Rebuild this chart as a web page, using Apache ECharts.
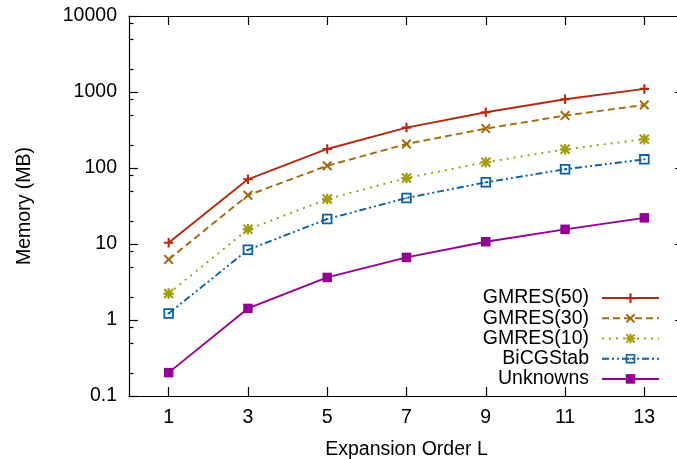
<!DOCTYPE html>
<html>
<head>
<meta charset="utf-8">
<script src="https://cdn.jsdelivr.net/npm/echarts@6/dist/echarts.min.js"></script>
<style>
html,body{margin:0;padding:0;background:#fff;}
#chart{width:677px;height:459px;}
</style>
</head>
<body>
<div id="chart"></div>
<script>
const orders = [1, 3, 5, 7, 9, 11, 13];
const gmres50 = [10.4, 71, 178, 340, 542, 804, 1099];
const gmres30 = [6.27, 43.7, 107, 207, 330, 489, 676];
const gmres10 = [2.23, 15.6, 39, 73.8, 119, 176, 239];
const bicgstab = [1.22, 8.39, 21.3, 40.3, 64.8, 96.1, 130];
const unknowns = [0.203, 1.42, 3.63, 6.66, 10.7, 15.6, 22.1];
const xTicks = [1, 3, 5, 7, 9, 11, 13];
const yTicks = [0.1, 1, 10, 100, 1000, 10000];
const yMinorTicks = [0.2, 0.5, 0.8, 2, 5, 8, 20, 50, 80, 200, 500, 800, 2000, 5000, 8000];

const FONT = 'Liberation Sans, Arial, sans-serif';
const FS = 19.5;

const PLUS = 'path://M-1.1,-5H1.1V5H-1.1Z M-5,-1.1H5V1.1H-5Z';
const CROSS = 'path://M-3.7,-5.2L5.2,3.7L3.7,5.2L-5.2,-3.7Z M3.7,-5.2L5.2,-3.7L-3.7,5.2L-5.2,3.7Z';
const STAR = 'path://M-1.1,-5.2H1.1V5.2H-1.1Z M-5.2,-1.1H5.2V1.1H-5.2Z M-3.7,-5.2L5.2,3.7L3.7,5.2L-5.2,-3.7Z M3.7,-5.2L5.2,-3.7L-3.7,5.2L-5.2,3.7Z';
const BOXDOT = 'path://M-5,-5H5V5H-5Z M-3.3,-3.3V3.3H3.3V-3.3Z M-1,-0.8H1V0.8H-1Z';

function pts(vals){ return orders.map((o,i)=>[o, vals[i]]); }

function mk(name, vals, color, type, symbol, size){
  return {
    name: name, type: 'line', data: pts(vals),
    xAxisIndex: 0, yAxisIndex: 0,
    symbol: symbol, symbolSize: size, showSymbol: true,
    lineStyle: {color: color, width: 1.9, type: type},
    itemStyle: {color: color, borderWidth: 0},
    emphasis: {disabled: true}
  };
}

const chart = echarts.init(document.getElementById('chart'), null, {renderer: 'canvas'});
const axisLine = {show: true, lineStyle: {color: '#000', width: 1.2}};
chart.setOption({
  animation: false,
  backgroundColor: '#fff',
  textStyle: {fontFamily: FONT},
  grid: {left: 129, top: 16, width: 555, height: 380, containLabel: false, outerBoundsMode: 'none'},
  legend: {
    orient: 'vertical', right: 17, top: 288, padding: 0,
    align: 'right', itemWidth: 57, itemHeight: 12, itemGap: 0,
    textStyle: {fontFamily: FONT, fontSize: FS, lineHeight: 20.2, color: '#000', padding: [0, 8, 0, 0]},
    data: ['GMRES(50)', 'GMRES(30)', 'GMRES(10)', 'BiCGStab', 'Unknowns']
  },
  xAxis: [
    {
      type: 'value', position: 'bottom', min: 0, max: 14,
      name: 'Expansion Order L', nameLocation: 'middle', nameGap: 44,
      nameTextStyle: {fontFamily: FONT, fontSize: FS, color: '#000'},
      axisLine: axisLine,
      axisTick: {show: true, inside: true, length: 9, lineStyle: {color: '#000', width: 1.2}, customValues: xTicks},
      axisLabel: {show: true, margin: 12, fontFamily: FONT, fontSize: FS, color: '#000', customValues: xTicks},
      splitLine: {show: false}
    },
    {
      type: 'value', position: 'top', min: 0, max: 14,
      axisLine: axisLine,
      axisTick: {show: true, inside: true, length: 9, lineStyle: {color: '#000', width: 1.2}, customValues: xTicks},
      axisLabel: {show: false},
      splitLine: {show: false}
    }
  ],
  yAxis: [
    {
      type: 'log', logBase: 10, position: 'left', min: 0.1, max: 10000,
      name: 'Memory (MB)', nameLocation: 'middle', nameGap: 94, nameRotate: 90,
      nameTextStyle: {fontFamily: FONT, fontSize: FS, color: '#000'},
      axisLine: axisLine,
      axisTick: {show: true, inside: true, length: 9, lineStyle: {color: '#000', width: 1.2}, customValues: yTicks},
      axisLabel: {show: true, margin: 12, fontFamily: FONT, fontSize: FS, color: '#000', customValues: yTicks,
        formatter: function(v){ return String(v); }},
      splitLine: {show: false}
    },
    {
      type: 'log', logBase: 10, position: 'left', min: 0.1, max: 10000,
      axisLine: {show: false},
      axisTick: {show: true, inside: true, length: 4.5, lineStyle: {color: '#000', width: 1.2}, customValues: yMinorTicks},
      axisLabel: {show: false},
      splitLine: {show: false}
    },
    {
      type: 'log', logBase: 10, position: 'right', min: 0.1, max: 10000,
      axisLine: axisLine,
      axisTick: {show: true, inside: true, length: 9, lineStyle: {color: '#000', width: 1.2}, customValues: yTicks},
      axisLabel: {show: false},
      splitLine: {show: false}
    }
  ],
  series: [
    mk('GMRES(50)', gmres50, '#b3290f', 'solid', PLUS, 9.5),
    mk('GMRES(30)', gmres30, '#a5690c', [7, 4], CROSS, 10),
    mk('GMRES(10)', gmres10, '#a19d0b', [2, 5], STAR, 10.5),
    mk('BiCGStab', bicgstab, '#0b5fa6', [7, 3, 2, 3, 2, 3], BOXDOT, 10.5),
    mk('Unknowns', unknowns, '#940094', 'solid', 'rect', 9.5)
  ]
});
</script>
</body>
</html>
